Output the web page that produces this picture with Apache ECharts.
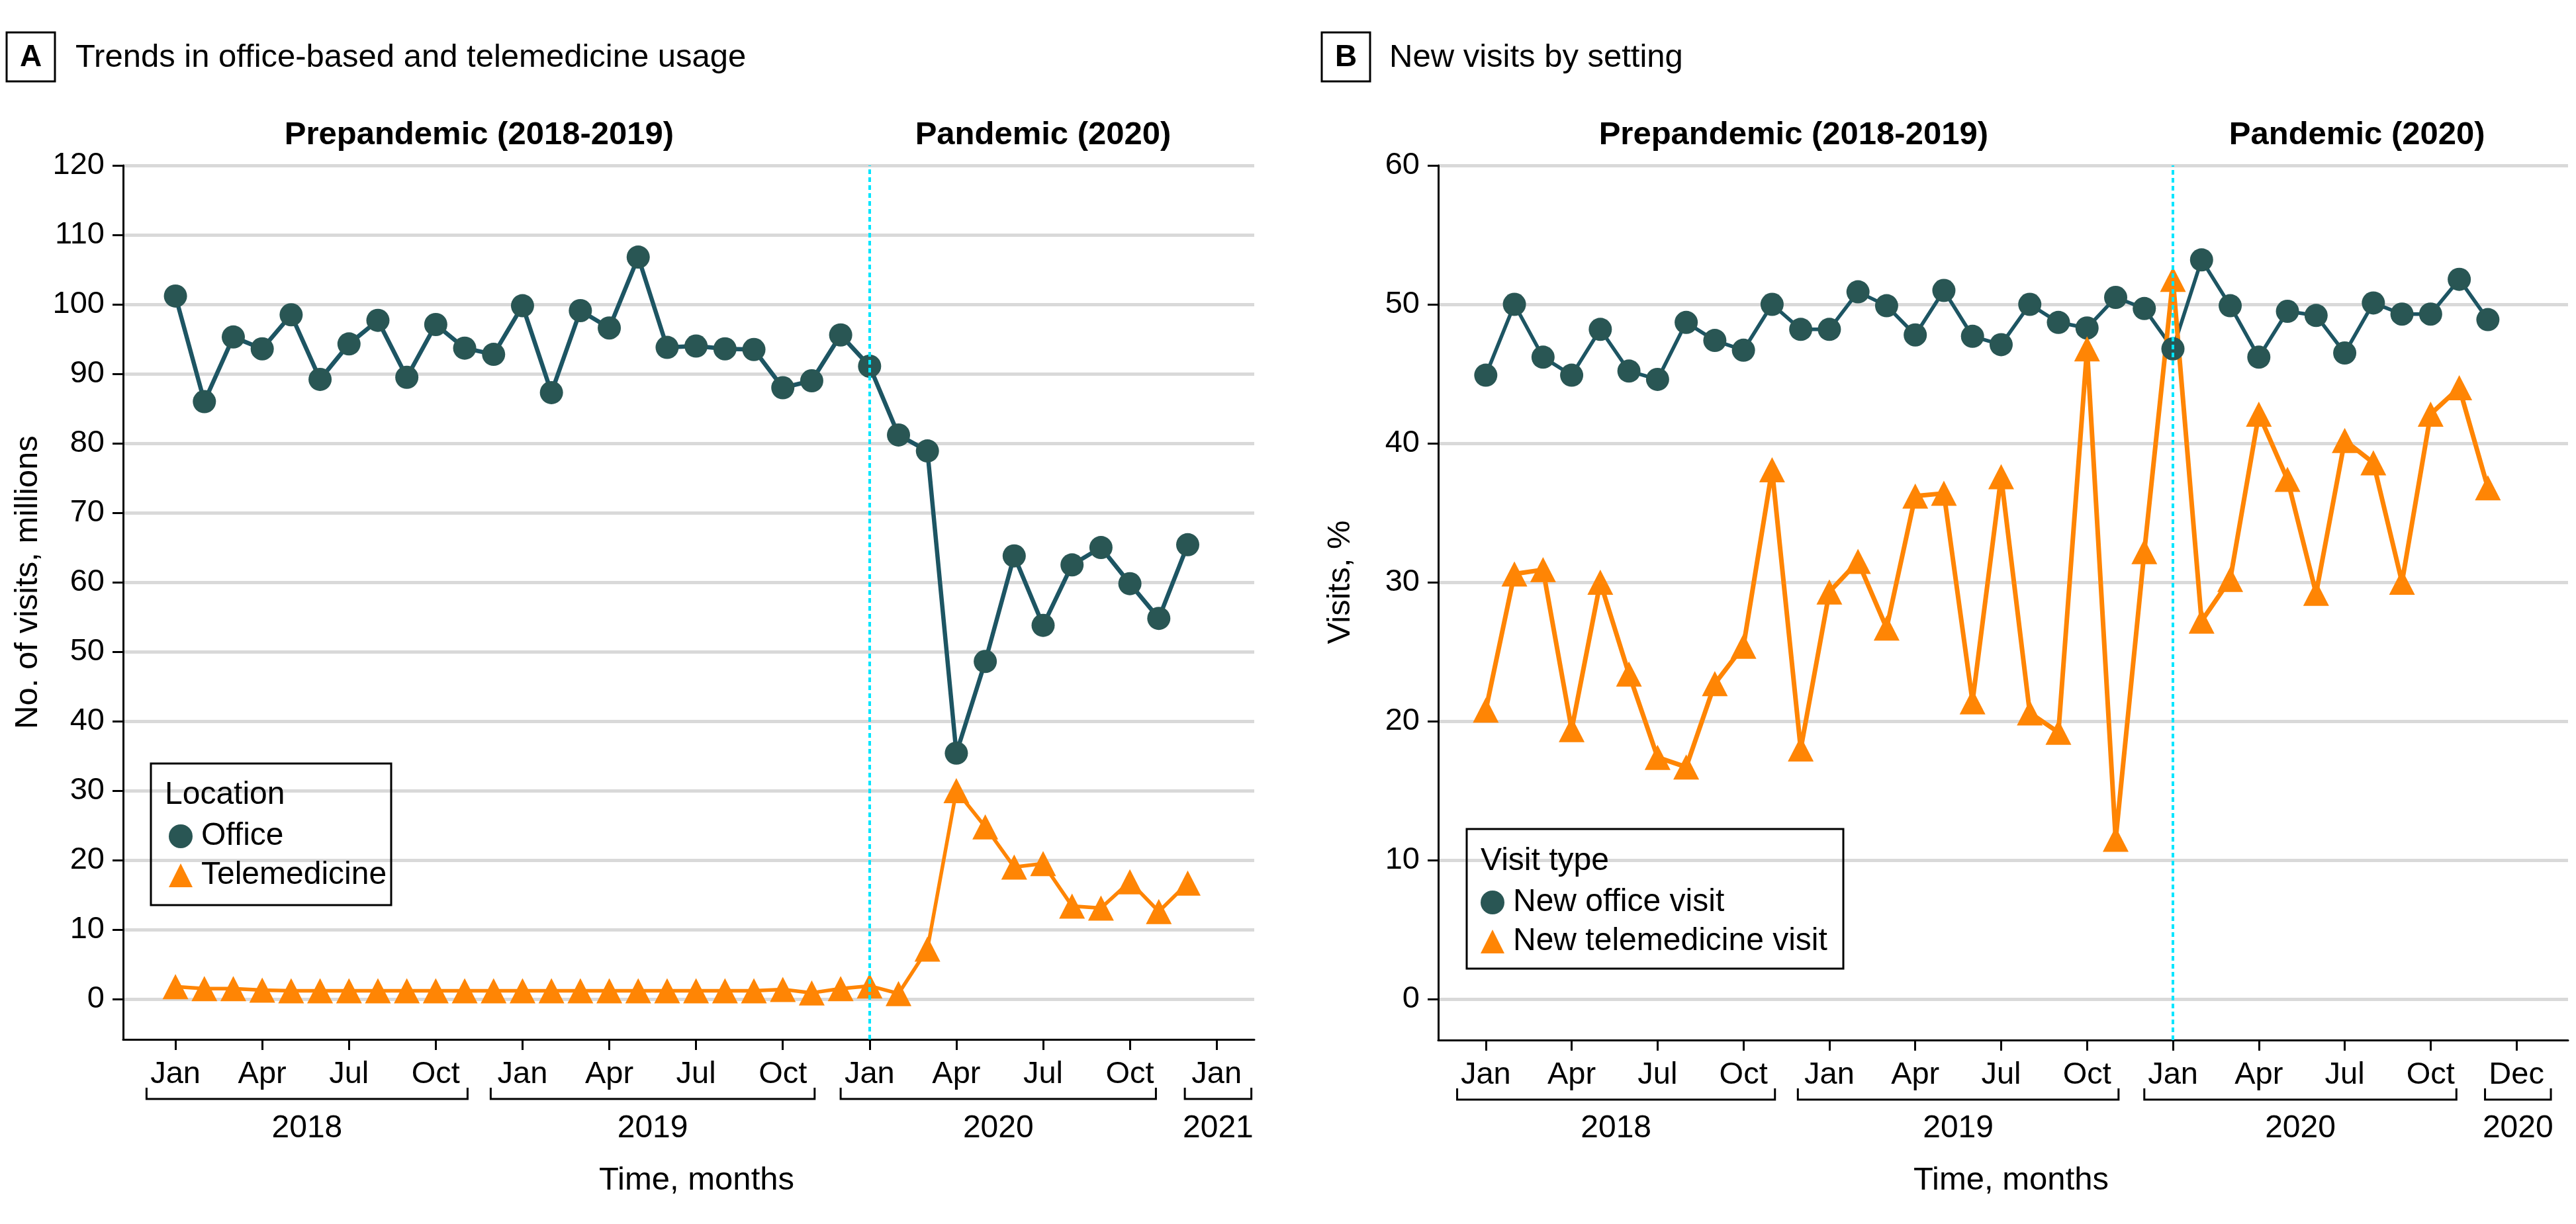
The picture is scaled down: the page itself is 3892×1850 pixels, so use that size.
<!DOCTYPE html>
<html>
<head>
<meta charset="utf-8">
<script src="https://cdn.jsdelivr.net/npm/echarts@6/dist/echarts.min.js"></script>
<style>
html, body { margin:0; padding:0; background:#fff; }
#chart { width:3892px; height:1850px; }
</style>
</head>
<body>
<div id="chart"></div>
<script>
// month index: 0 = Jan 2018 ... 35 = Dec 2020
var officeA = [101.2, 86.0, 95.3, 93.6, 98.5, 89.2, 94.3, 97.7, 89.5, 97.1, 93.7, 92.8,
               99.8, 87.3, 99.1, 96.6, 106.8, 93.8, 94.0, 93.6, 93.5, 88.0, 89.0, 95.6,
               91.1, 81.2, 78.9, 35.4, 48.6, 63.8, 53.8, 62.5, 65.0, 59.8, 54.8, 65.4];
var teleA = [1.8, 1.5, 1.5, 1.3, 1.2, 1.2, 1.2, 1.2, 1.2, 1.2, 1.2, 1.2,
             1.2, 1.2, 1.2, 1.2, 1.2, 1.2, 1.2, 1.2, 1.2, 1.4, 0.9, 1.5,
             1.9, 0.8, 7.2, 30.0, 24.8, 19.0, 19.5, 13.4, 13.1, 16.9, 12.6, 16.7];
var officeB = [44.9, 50.0, 46.2, 44.9, 48.2, 45.2, 44.6, 48.7, 47.4, 46.7, 50.0, 48.2,
               48.2, 50.9, 49.9, 47.8, 51.0, 47.7, 47.1, 50.0, 48.7, 48.3, 50.5, 49.7,
               46.8, 53.2, 49.9, 46.2, 49.5, 49.2, 46.5, 50.1, 49.3, 49.3, 51.8, 48.9];
var teleB = [20.8, 30.6, 30.9, 19.4, 30.0, 23.4, 17.4, 16.7, 22.7, 25.4, 38.1, 18.0,
             29.3, 31.5, 26.7, 36.2, 36.4, 21.4, 37.6, 20.6, 19.2, 46.8, 11.5, 32.2,
             51.8, 27.2, 30.2, 42.1, 37.4, 29.2, 40.2, 38.6, 30.0, 42.1, 44.0, 36.8];

var tickPos = [0, 3, 6, 9, 12, 15, 18, 21, 24, 27, 30, 33, 36];
var tickLabelsA = ['Jan', 'Apr', 'Jul', 'Oct', 'Jan', 'Apr', 'Jul', 'Oct', 'Jan', 'Apr', 'Jul', 'Oct', 'Jan'];
var tickLabelsB = ['Jan', 'Apr', 'Jul', 'Oct', 'Jan', 'Apr', 'Jul', 'Oct', 'Jan', 'Apr', 'Jul', 'Oct', 'Dec'];
var yTicksA = [0, 10, 20, 30, 40, 50, 60, 70, 80, 90, 100, 110, 120];
var yTicksB = [0, 10, 20, 30, 40, 50, 60];
var yearsA = ['2018', '2019', '2020', '2021'];
var yearsB = ['2018', '2019', '2020', '2020'];
var yearSpans = [[-1.0, 10.1], [10.9, 22.1], [23.0, 33.9], [34.9, 37.2]];
var pandemicStart = 24;

var FONT = 'Liberation Sans';
var TEAL = '#295654';
var TEAL_LINE = '#1d5563';
var ORANGE = '#ff8504';

var panels = [
  { grid: {left: 186, top: 250, width: 1709, height: 1321}, xMin: -1.81, xMax: 37.3, yMin: -5.8, yMax: 120,
    yTicks: yTicksA, xLabels: tickLabelsA, years: yearsA, letter: 'A', letterX: 10,
    title: 'Trends in office-based and telemedicine usage', titleX: 114,
    periodAt: [10.5, 30.0],
    yName: 'No. of visits, millions', yNameX: 42,
    names: ['Office', 'Telemedicine'], legendTitle: 'Location',
    legendBox: [228, 1154, 363, 214], legendTitleY: 1202, legendLeft: 255, legendTop: 1240,
    office: officeA, tele: teleA, widths: [6.5, 5.5] },
  { grid: {left: 2173, top: 250, width: 1707, height: 1322}, xMin: -1.66, xMax: 37.8, yMin: -2.95, yMax: 60,
    yTicks: yTicksB, xLabels: tickLabelsB, years: yearsB, letter: 'B', letterX: 1997,
    title: 'New visits by setting', titleX: 2099,
    periodAt: [10.75, 30.43],
    yName: 'Visits, %', yNameX: 2025,
    names: ['New office visit', 'New telemedicine visit'], legendTitle: 'Visit type',
    legendBox: [2216, 1253, 569, 211], legendTitleY: 1302, legendLeft: 2237, legendTop: 1340,
    office: officeB, tele: teleB, widths: [5.5, 7] }
];

function txt(size, weight) {
  return {fontFamily: FONT, fontSize: size, fontWeight: weight || 'normal', color: '#000'};
}

var option = {
  animation: false,
  backgroundColor: '#fff',
  grid: panels.map(function (p) { return p.grid; }),
  xAxis: panels.map(function (p, i) {
    return {
      type: 'value', gridIndex: i, min: p.xMin, max: p.xMax,
      axisLine: {show: true, onZero: false, lineStyle: {color: '#000', width: 3}},
      axisTick: {show: true, length: 16, customValues: tickPos, lineStyle: {color: '#000', width: 3}},
      axisLabel: Object.assign(txt(47), {
        customValues: tickPos, margin: 30,
        formatter: function (v) { return p.xLabels[tickPos.indexOf(v)]; }
      }),
      splitLine: {show: false}
    };
  }),
  yAxis: panels.map(function (p, i) {
    return {
      type: 'value', gridIndex: i, min: p.yMin, max: p.yMax,
      axisLine: {show: true, onZero: false, lineStyle: {color: '#000', width: 3}},
      axisTick: {show: true, length: 16, customValues: p.yTicks, lineStyle: {color: '#000', width: 3}},
      axisLabel: Object.assign(txt(47), {customValues: p.yTicks, margin: 28}),
      splitLine: {show: true, lineStyle: {color: '#d9d9d9', width: 5}}
    };
  }),
  legend: panels.map(function (p) {
    return {
      orient: 'vertical', left: p.legendLeft, top: p.legendTop,
      itemWidth: 36, itemHeight: 36, itemGap: 11, padding: 0,
      textStyle: Object.assign(txt(48), {padding: [0, 0, 0, 8]}),
      data: [{name: p.names[0], icon: 'circle'}, {name: p.names[1], icon: 'triangle'}]
    };
  }),
  series: []
};

panels.forEach(function (p, i) {
  option.series.push({
    name: p.names[0], type: 'line', xAxisIndex: i, yAxisIndex: i,
    data: p.office.map(function (v, k) { return [k, v]; }),
    symbol: 'circle', symbolSize: 35,
    lineStyle: {color: TEAL_LINE, width: p.widths[0]},
    itemStyle: {color: TEAL},
    markLine: {
      silent: true, symbol: ['none', 'none'], label: {show: false},
      lineStyle: {color: '#00e5ff', type: [7, 5], width: 4},
      data: [{xAxis: pandemicStart}]
    }
  });
  option.series.push({
    name: p.names[1], type: 'line', xAxisIndex: i, yAxisIndex: i,
    data: p.tele.map(function (v, k) { return [k, v]; }),
    symbol: 'triangle', symbolSize: [39, 38],
    lineStyle: {color: ORANGE, width: p.widths[1]},
    itemStyle: {color: ORANGE}
  });
});

var chart = echarts.init(document.getElementById('chart'));
chart.setOption(option);

// decorations placed from the axes' own scales
function textEl(x, y, s, size, weight, align, rot) {
  return {
    type: 'text', x: x, y: y, rotation: rot || 0,
    style: {text: s, fontFamily: FONT, fontSize: size, fontWeight: weight || 'normal', fill: '#000',
            align: align || 'center', verticalAlign: 'middle',
            textAlign: align || 'center', textVerticalAlign: 'middle'}
  };
}

var g = [];
panels.forEach(function (p, i) {
  var px = function (v) { return chart.convertToPixel({xAxisIndex: i}, v); };
  var py = function (v) { return chart.convertToPixel({yAxisIndex: i}, v); };
  var bottom = p.grid.top + p.grid.height;

  g.push({type: 'rect', shape: {x: p.letterX, y: 49, width: 73, height: 74},
          style: {fill: 'none', stroke: '#000', lineWidth: 3}});
  g.push(textEl(p.letterX + 36.5, 87, p.letter, 46, 'bold'));
  g.push(textEl(p.titleX, 87, p.title, 49, 'normal', 'left'));

  g.push(textEl(px(p.periodAt[0]), 204, 'Prepandemic (2018-2019)', 49, 'bold'));
  g.push(textEl(px(p.periodAt[1]), 204, 'Pandemic (2020)', 49, 'bold'));

  g.push(textEl(p.yNameX, (py(0) + py(p.yMax)) / 2, p.yName, 49, 'normal', 'center', Math.PI / 2));
  g.push(textEl(p.grid.left + p.grid.width / 2 + 12, 1784, 'Time, months', 49));

  yearSpans.forEach(function (s, k) {
    var x1 = px(s[0]), x2 = px(s[1]);
    g.push({type: 'polyline', shape: {points: [[x1, bottom + 73], [x1, bottom + 90], [x2, bottom + 90], [x2, bottom + 73]]},
            style: {fill: 'none', stroke: '#000', lineWidth: 3}});
    g.push(textEl((x1 + x2) / 2, 1706, p.years[k], 48));
  });

  var b = p.legendBox;
  g.push({type: 'rect', shape: {x: b[0], y: b[1], width: b[2], height: b[3]},
          style: {fill: 'none', stroke: '#000', lineWidth: 3}});
  g.push(textEl(b[0] + 21, p.legendTitleY, p.legendTitle, 48, 'normal', 'left'));
});

chart.setOption({graphic: g});
</script>
</body>
</html>
